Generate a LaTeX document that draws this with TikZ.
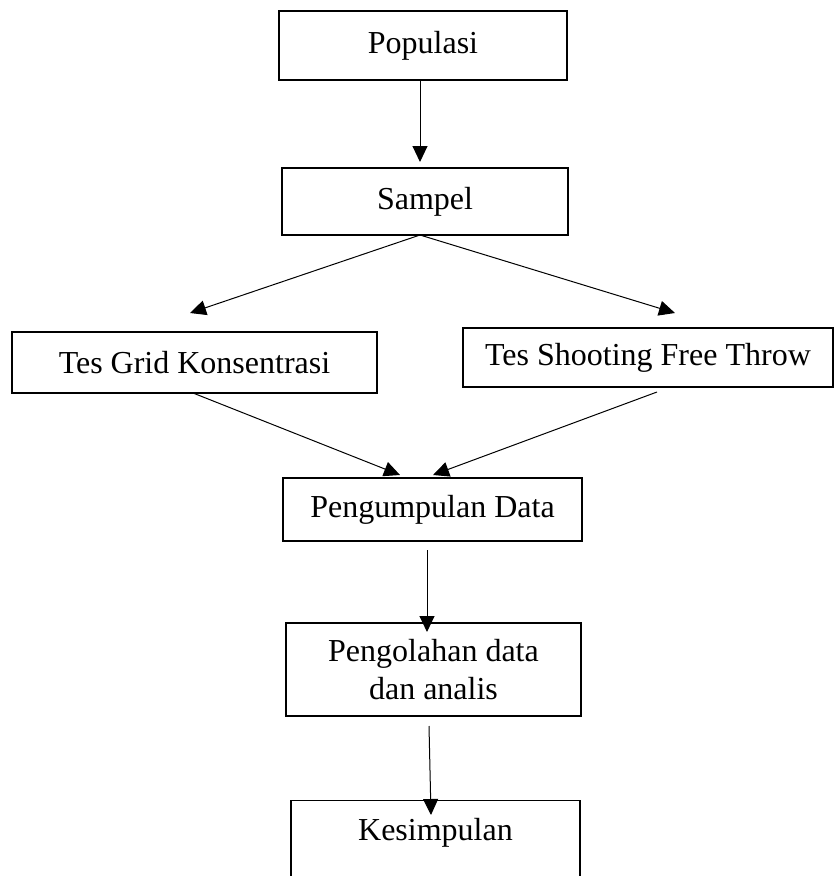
\documentclass[tikz,border=0pt]{standalone}
\usepackage{fontspec}
\setmainfont{Liberation Serif}
\usetikzlibrary{arrows.meta}
\begin{document}
\begin{tikzpicture}[x=1pt,y=-1pt,
  box/.style={draw, line width=1.1pt, inner sep=0pt, align=center, font=\fontsize{32}{38}\selectfont},
  lbl/.style={inner sep=0pt, align=center, font=\fontsize{32}{38}\selectfont},
  arr/.style={line width=1pt, -{Triangle[length=16pt,width=15pt]}}]
\useasboundingbox (0,0) rectangle (835,876);
\node[box, minimum width=288pt, minimum height=69pt] (pop) at (423,45.5) {Populasi};
\node[box, minimum width=286pt, minimum height=67pt] (samp) at (425,201.5) {Sampel};
\node[box, minimum width=365pt, minimum height=61pt] (grid) at (194.5,362.5) {Tes Grid Konsentrasi};
\node[box, minimum width=370pt, minimum height=59pt] (shoot) at (648,357.5) {\raisebox{-3pt}{Tes Shooting Free Throw}};
\node[box, minimum width=299pt, minimum height=63pt] (peng) at (432.5,509.5) {Pengumpulan Data};
\node[box, minimum width=295pt, minimum height=93pt] (olah) at (433.5,669.5) {Pengolahan data\\dan analis};
\node[box, anchor=north, minimum width=289pt, minimum height=110pt] (kes) at (435.5,800) {};
\node[lbl] (kestxt) at (435.5,833) {Kesimpulan};
% connector end points
\coordinate (s0) at (420,235);
\coordinate (t1) at (190,313);
\coordinate (t2) at (675,313);
\coordinate (g0) at (193,393);
\coordinate (h0) at (657,392);
\coordinate (t3) at (400,475);
\coordinate (t4) at (433,475);
\coordinate (p0) at (427,550);
\coordinate (t5) at (427,632);
\coordinate (o0) at (429,726);
\coordinate (t6) at (431,815);
\coordinate (pb) at (420,80);
\coordinate (tp) at (420,162);
\draw[arr] (pb) -- (tp);
\draw[arr] (s0) -- (t1);
\draw[arr] (s0) -- (t2);
\draw[arr] (g0) -- (t3);
\draw[arr] (h0) -- (t4);
\draw[arr] (p0) -- (t5);
\draw[arr] (o0) -- (t6);
\end{tikzpicture}
\end{document}
